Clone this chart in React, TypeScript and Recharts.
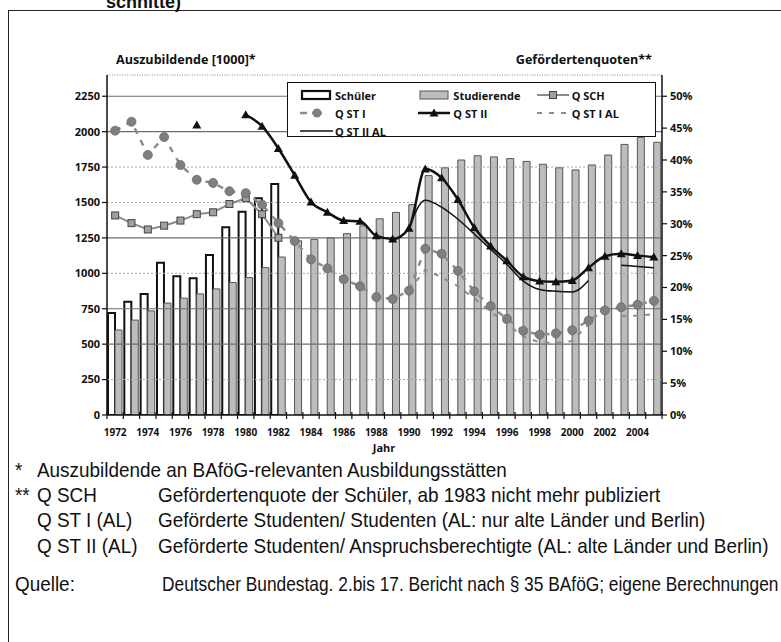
import React from 'react';
import { ComposedChart, Bar, Line, XAxis, YAxis, Legend, ReferenceLine } from 'recharts';

// Jahre und Werte
const years = [
  '1972', '1973', '1974', '1975', '1976', '1977', '1978', '1979', '1980', '1981', '1982',
  '1983', '1984', '1985', '1986', '1987', '1988', '1989', '1990', '1991', '1992', '1993',
  '1994', '1995', '1996', '1997', '1998', '1999', '2000', '2001', '2002', '2003', '2004', '2005',
];

// Auszubildende in 1000
const schueler = [
  720, 800, 855, 1075, 980, 965, 1130, 1325, 1435, 1530, 1630,
  null, null, null, null, null, null, null, null, null, null, null,
  null, null, null, null, null, null, null, null, null, null, null, null,
];
const studierende = [
  600, 670, 735, 790, 825, 855, 890, 935, 970, 1040, 1115,
  1230, 1240, 1250, 1280, 1335, 1385, 1430, 1485, 1690, 1745, 1800,
  1830, 1822, 1810, 1790, 1770, 1745, 1730, 1765, 1835, 1910, 1960, 1925,
];

// Gefördertenquoten in %
const qSch = [
  31.3, 30.1, 29.1, 29.7, 30.5, 31.5, 31.8, 33.1, 34.0, 31.5, 27.8,
  null, null, null, null, null, null, null, null, null, null, null,
  null, null, null, null, null, null, null, null, null, null, null, null,
];
const qSt1 = [
  44.6, 46.0, 40.8, 43.6, 39.2, 36.9, 36.4, 35.1, 34.8, 33.0, 30.1,
  27.3, 24.4, 23.0, 21.3, 20.2, 18.5, 18.2, 19.5, 26.1, 25.3, 22.6,
  19.4, 17.1, 15.1, 13.2, 12.6, 12.8, 13.3, 14.8, 16.4, 16.9, 17.3, 17.9,
];
const qSt2 = [
  null, null, null, null, null, 45.5, null, null, 47.1, 45.3, 41.8,
  37.6, 33.4, 31.8, 30.5, 30.4, 28.1, 27.6, 29.3, 38.6, 37.2, 33.8,
  29.4, 26.5, 24.2, 21.7, 21.0, 20.9, 21.1, 23.1, 24.9, 25.3, 25.0, 24.8,
];
const qSt1Al = [
  null, null, null, null, null, null, null, null, null, null, null,
  null, null, null, null, null, null, null, 19.5, 22.8, 21.6, 20.2,
  18.3, 16.2, 14.3, 12.3, 11.4, 11.3, 11.6, 14.2, null, 15.5, 15.6, 15.8,
];
const qSt2Al = [
  null, null, null, null, null, null, null, null, null, null, null,
  null, null, null, null, null, null, null, 29.3, 33.7, 32.6, 30.7,
  28.4, 26.0, 23.6, 21.0, 19.7, 19.4, 19.3, 21.1, null, 23.5, 23.3, 23.1,
];

const leftTicks = [0, 250, 500, 750, 1000, 1250, 1500, 1750, 2000, 2250];
const rightTicks = [0, 5, 10, 15, 20, 25, 30, 35, 40, 45, 50];
const solidGrid = [500, 750, 1250, 2000, 2250];
const dottedGrid = [250, 1000, 1500, 1750];

const legendRows = [
  ['Schüler', 'Studierende', 'Q SCH'],
  ['Q ST I', 'Q ST II', 'Q ST I AL'],
  ['Q ST II AL'],
];

const data = years.map((year, i) => ({
  year,
  schueler: schueler[i],
  studierende: studierende[i],
  qSch: qSch[i],
  qSt1: qSt1[i],
  qSt2: qSt2[i],
  qSt1Al: qSt1Al[i],
  qSt2Al: qSt2Al[i],
}));

const W = 781;
const H = 460;
const MARGIN = { top: 75, right: 58, bottom: 15, left: 0 };
const LEFT_W = 107;
const RIGHT_W = 61;
const BAND = (W - MARGIN.left - MARGIN.right - LEFT_W - RIGHT_W) / years.length;

const chartFont = "'Open Sans', sans-serif";
const noteFont = "'Liberation Sans', Arial, sans-serif";

const GRAY = '#8c8c8c';
const BAR_GRAY = '#bdbdbd';

const XTick = (props: any) => {
  const { x, y, payload, index } = props;
  const yr = Number(payload.value);
  return (
    <g>
      <line x1={x - BAND / 2} x2={x - BAND / 2} y1={y - 17} y2={y - 10} stroke="#111" strokeWidth={1.2} />
      {index === years.length - 1 && (
        <line x1={x + BAND / 2} x2={x + BAND / 2} y1={y - 17} y2={y - 10} stroke="#111" strokeWidth={1.2} />
      )}
      {yr % 2 === 0 && (
        <text x={x} y={y} dy="0.71em" textAnchor="middle" fontFamily={chartFont} fontWeight={700} fontSize={10} fill="#111">
          {payload.value}
        </text>
      )}
    </g>
  );
};

const SquareDot = (props: any) => {
  const { cx, cy, value, index } = props;
  if (value == null || cy == null) return <g key={`sq-${index}`} />;
  return <rect key={`sq-${index}`} x={cx - 3.5} y={cy - 3.5} width={7} height={7} fill="#a0a0a0" stroke="#444" strokeWidth={1} />;
};

const CircleDot = (props: any) => {
  const { cx, cy, value, index } = props;
  if (value == null || cy == null) return <g key={`ci-${index}`} />;
  return <circle key={`ci-${index}`} cx={cx} cy={cy} r={4.5} fill="#7f7f7f" stroke="#6a6a6a" strokeWidth={0.8} />;
};

const TriangleDot = (props: any) => {
  const { cx, cy, value, index } = props;
  if (value == null || cy == null) return <g key={`tr-${index}`} />;
  return <path key={`tr-${index}`} d={`M${cx},${cy - 4.5}L${cx + 4.5},${cy + 3.5}L${cx - 4.5},${cy + 3.5}Z`} fill="#111" />;
};

const LegendSymbol = ({ name }: { name: string }) => {
  switch (name) {
    case 'Schüler':
      return <rect x={2} y={2} width={28} height={8} fill="#fff" stroke="#111" strokeWidth={2.2} />;
    case 'Studierende':
      return <rect x={2} y={2} width={28} height={8} fill={BAR_GRAY} stroke="#555" strokeWidth={1} />;
    case 'Q SCH':
      return (
        <g>
          <line x1={0} x2={32} y1={6} y2={6} stroke={GRAY} strokeWidth={2} />
          <rect x={12.5} y={2.5} width={7} height={7} fill="#a0a0a0" stroke="#444" strokeWidth={1} />
        </g>
      );
    case 'Q ST I':
      return (
        <g>
          <line x1={0} x2={7} y1={6} y2={6} stroke={GRAY} strokeWidth={2.5} />
          <line x1={12} x2={22} y1={6} y2={6} stroke={GRAY} strokeWidth={2.5} />
          <circle cx={17} cy={6} r={4.5} fill="#7f7f7f" />
        </g>
      );
    case 'Q ST II':
      return (
        <g>
          <line x1={0} x2={32} y1={6} y2={6} stroke="#111" strokeWidth={2.5} />
          <path d="M16,1.5L20.5,9.5L11.5,9.5Z" fill="#111" />
        </g>
      );
    case 'Q ST I AL':
      return <line x1={0} x2={32} y1={6} y2={6} stroke={GRAY} strokeWidth={2} strokeDasharray="5 7" />;
    default:
      return <line x1={0} x2={33} y1={6} y2={6} stroke="#111" strokeWidth={1.5} />;
  }
};

const LegendBox = () => (
  <div style={{ padding: '3px 0 0 12px', fontFamily: chartFont, fontWeight: 700, fontSize: 11, color: '#111' }}>
    {legendRows.map((row, r) => (
      <div key={r} style={{ display: 'flex', height: 18, alignItems: 'center' }}>
        {row.map((name) => (
          <div key={name} style={{ display: 'flex', alignItems: 'center', width: 121 }}>
            <svg width={34} height={12} style={{ display: 'block' }}>
              <LegendSymbol name={name} />
            </svg>
            <span style={{ marginLeft: 1 }}>{name}</span>
          </div>
        ))}
      </div>
    ))}
  </div>
);

const tickStyle = { fontFamily: chartFont, fontWeight: 700, fontSize: 11, fill: '#111' };

const NoteSpan = ({ x, text, sx = 0.9 }: { x: number; text: string; sx?: number }) => (
  <span style={{ position: 'absolute', left: x, transform: `scaleX(${sx})`, transformOrigin: 'left center' }}>{text}</span>
);

const noteRow = (top: number, left: string, mid: string, right: string, rightX = 160, rightScale = 0.9) => (
  <div style={{ position: 'absolute', top, left: 0, width: W, height: 24, fontFamily: noteFont, fontSize: 21, lineHeight: '24px', color: '#111', whiteSpace: 'nowrap' }}>
    <NoteSpan x={15} text={left} />
    <NoteSpan x={37} text={mid} />
    <NoteSpan x={rightX} text={right} sx={rightScale} />
  </div>
);

const App = () => {
  return (
    <div style={{ position: 'fixed', left: 0, top: 0, width: W, height: 642, background: '#fff', overflow: 'hidden' }}>
      <div style={{ position: 'absolute', left: 8, top: 10, width: 800, height: 700, borderLeft: '1.5px solid #222', borderTop: '1.5px solid #222' }} />
      <div style={{ position: 'absolute', left: 106, top: -7, fontFamily: "'Liberation Sans', Arial, sans-serif", fontWeight: 700, fontSize: 18, lineHeight: '18px', color: '#111' }}>
        schnitte)
      </div>
      <div style={{ position: 'absolute', left: 116, top: 51, fontFamily: chartFont, fontWeight: 700, fontSize: 12.6, lineHeight: '18px', color: '#111' }}>
        Auszubildende [1000]*
      </div>
      <div style={{ position: 'absolute', right: W - 652, top: 51, fontFamily: chartFont, fontWeight: 700, fontSize: 12.6, lineHeight: '18px', color: '#111' }}>
        Gefördertenquoten**
      </div>

      <div style={{ position: 'absolute', left: 0, top: 0 }}>
        <ComposedChart width={W} height={H} data={data} margin={MARGIN} barCategoryGap={1} barGap={0}>
          {solidGrid.map((v) => (
            <ReferenceLine key={`s${v}`} yAxisId="left" y={v} stroke="#6e6e6e" strokeWidth={1.2} />
          ))}
          {dottedGrid.map((v) => (
            <ReferenceLine key={`d${v}`} yAxisId="left" y={v} stroke="#a8a8a8" strokeWidth={1} strokeDasharray="2 2" />
          ))}
          <ReferenceLine yAxisId="left" y={2400} stroke="#888" strokeWidth={1} strokeDasharray="1 1.5" />
          <XAxis
            dataKey="year"
            interval={0}
            height={30}
            tickSize={0}
            tickMargin={14}
            tickLine={false}
            axisLine={{ stroke: '#111', strokeWidth: 1.5 }}
            tick={<XTick />}
          />
          <YAxis
            yAxisId="left"
            width={LEFT_W}
            domain={[0, 2400]}
            ticks={leftTicks}
            allowDataOverflow
            tickSize={5}
            tickMargin={2}
            tick={tickStyle}
            tickLine={{ stroke: '#111', strokeWidth: 1.2 }}
            axisLine={{ stroke: '#111', strokeWidth: 1.5 }}
          />
          <YAxis
            yAxisId="right"
            orientation="right"
            width={RIGHT_W}
            domain={[0, 53.333]}
            ticks={rightTicks}
            allowDataOverflow
            tickFormatter={(v) => `${v}%`}
            tickSize={5}
            tickMargin={3}
            tick={tickStyle}
            tickLine={{ stroke: '#111', strokeWidth: 1.2 }}
            axisLine={{ stroke: '#111', strokeWidth: 1.5 }}
          />
          <Legend
            layout="horizontal"
            verticalAlign="middle"
            align="center"
            content={() => <LegendBox />}
            wrapperStyle={{ position: 'absolute', left: 287, top: 82, width: 369, height: 55, border: '1.5px solid #111', background: '#fff', boxSizing: 'border-box' }}
          />
          <Bar yAxisId="left" dataKey="schueler" name="Schüler" fill="#fff" stroke="#111" strokeWidth={2} isAnimationActive={false} />
          <Bar yAxisId="left" dataKey="studierende" name="Studierende" fill={BAR_GRAY} stroke="#555" strokeWidth={1} isAnimationActive={false} />
          <Line yAxisId="right" type="linear" dataKey="qSch" name="Q SCH" stroke={GRAY} strokeWidth={2} dot={SquareDot} activeDot={false} isAnimationActive={false} />
          <Line yAxisId="right" type="linear" dataKey="qSt1" name="Q ST I" stroke={GRAY} strokeWidth={2.5} strokeDasharray="6 7" dot={CircleDot} activeDot={false} isAnimationActive={false} />
          <Line yAxisId="right" type="linear" dataKey="qSt1Al" name="Q ST I AL" stroke={GRAY} strokeWidth={2} strokeDasharray="5 7" dot={false} activeDot={false} isAnimationActive={false} />
          <Line yAxisId="right" type="monotone" dataKey="qSt2Al" name="Q ST II AL" stroke="#111" strokeWidth={1.5} dot={false} activeDot={false} isAnimationActive={false} />
          <Line yAxisId="right" type="monotone" dataKey="qSt2" name="Q ST II" stroke="#111" strokeWidth={2.5} dot={TriangleDot} activeDot={false} isAnimationActive={false} />
        </ComposedChart>
      </div>

      <div style={{ position: 'absolute', left: 364, width: 40, top: 440, textAlign: 'center', fontFamily: chartFont, fontWeight: 700, fontSize: 11, color: '#111' }}>
        Jahr
      </div>

      {noteRow(458, '*', 'Auszubildende an BAföG-relevanten Ausbildungsstätten', '')}
      {noteRow(483, '**', 'Q SCH', 'Gefördertenquote der Schüler, ab 1983 nicht mehr publiziert', 158)}
      {noteRow(508, '', 'Q ST I (AL)', 'Geförderte Studenten/ Studenten (AL: nur alte Länder und Berlin)', 158)}
      {noteRow(534, '', 'Q ST II (AL)', 'Geförderte Studenten/ Anspruchsberechtigte (AL: alte Länder und Berlin)', 158)}
      {noteRow(572, 'Quelle:', '', 'Deutscher Bundestag. 2.bis 17. Bericht nach § 35 BAföG; eigene Berechnungen', 162, 0.825)}
    </div>
  );
};

export default App;
